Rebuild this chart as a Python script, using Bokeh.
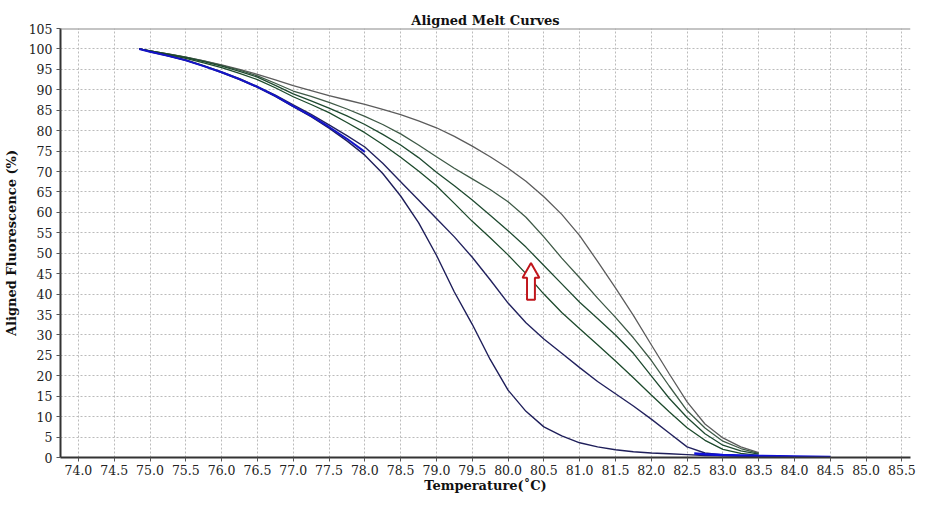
from bokeh.plotting import figure
from bokeh.models import FixedTicker, PrintfTickFormatter, Range1d, Span
from bokeh.embed import file_html
from bokeh.resources import INLINE

# ---- data ----
temps = [74.85, 75.0, 75.25, 75.5, 75.75, 76.0, 76.25, 76.5, 76.75, 77.0,
         77.25, 77.5, 77.75, 78.0, 78.25, 78.5, 78.75, 79.0, 79.25, 79.5,
         79.75, 80.0, 80.25, 80.5, 80.75, 81.0, 81.25, 81.5, 81.75, 82.0,
         82.25, 82.5, 82.75, 83.0, 83.25, 83.5, 83.75, 84.0, 84.25, 84.5]

curve_a = [100, 99.3, 98.3, 97.2, 95.8, 94.2, 92.5, 90.6, 88.4, 85.9,
           83.4, 80.6, 77.5, 74.0, 69.5, 64.0, 57.5, 49.5, 40.5, 32.6,
           24.0, 16.5, 11.3, 7.5, 5.3, 3.6, 2.6, 1.9, 1.4, 1.1,
           0.9, 0.7, 0.5, 0.4, 0.35, 0.3, 0.25, 0.2, 0.15, 0.1]
curve_b = [100, 99.4, 98.4, 97.3, 95.9, 94.4, 92.7, 90.8, 88.7, 86.3,
           84.0, 81.4, 78.8, 76.0, 72.0, 67.5, 63.0, 58.5, 54.0, 49.0,
           43.5, 37.8, 33.0, 29.0, 25.5, 22.0, 18.6, 15.6, 12.6, 9.4,
           6.0, 2.6, 1.1, 0.6, 0.45, 0.35, 0.3, 0.2, 0.15, 0.1]
curve_c = [100, 99.5, 98.6, 97.7, 96.6, 95.4, 94.0, 92.5, 90.5, 88.3,
           86.4, 84.4, 82.0, 79.5, 76.6, 73.5, 70.1, 66.5, 62.2, 57.8,
           53.8, 49.6, 45.0, 40.0, 35.5, 31.5, 27.6, 23.6, 19.5, 15.3,
           11.2, 7.3, 4.2, 2.0, 1.0, 0.5]
curve_d = [100, 99.5, 98.7, 97.9, 96.9, 95.8, 94.5, 93.1, 91.1, 89.0,
           87.3, 85.5, 83.6, 81.5, 79.1, 76.5, 73.4, 69.8, 66.5, 63.0,
           59.3, 55.5, 51.5, 47.0, 42.5, 38.0, 34.0, 30.0, 25.5, 20.0,
           14.5, 9.8, 5.8, 3.0, 1.6, 0.8]
curve_e = [100, 99.5, 98.8, 98.0, 97.1, 96.0, 94.8, 93.4, 91.6, 89.7,
           88.4, 86.9, 85.3, 83.5, 81.5, 79.2, 76.5, 73.6, 70.8, 68.2,
           65.6, 62.6, 58.8, 54.0, 48.8, 44.0, 39.0, 34.3, 29.3, 23.8,
           17.5, 11.5, 7.2, 4.0, 2.2, 1.0]
curve_f = [100, 99.5, 98.8, 98.0, 97.1, 96.1, 95.0, 93.8, 92.4, 91.0,
           89.8, 88.6, 87.5, 86.4, 85.2, 83.9, 82.4, 80.7, 78.6, 76.2,
           73.6, 70.8, 67.6, 63.8, 59.5, 54.3, 48.0, 41.5, 34.8, 27.6,
           20.5, 13.6, 8.2, 4.8, 2.6, 1.2]

blue_head_t = [74.85, 75.0, 75.25, 75.5, 75.75, 76.0, 76.25, 76.5, 76.75,
               77.0, 77.25, 77.5, 77.75, 78.0]
blue_head_f = [100, 99.3, 98.3, 97.2, 95.8, 94.3, 92.6, 90.7, 88.5,
               86.0, 83.6, 80.9, 78.0, 74.8]
blue_tail_t = [82.6, 82.75, 83.0, 83.25, 83.5, 84.0, 84.5]
blue_tail_f = [1.0, 0.8, 0.6, 0.5, 0.4, 0.25, 0.1]

arrow_x = 80.32
arrow_base = 38.6
arrow_tip = 47.6

x_ticks = [74.0, 74.5, 75.0, 75.5, 76.0, 76.5, 77.0, 77.5, 78.0, 78.5, 79.0,
           79.5, 80.0, 80.5, 81.0, 81.5, 82.0, 82.5, 83.0, 83.5, 84.0, 84.5,
           85.0, 85.5]
y_ticks = [0, 5, 10, 15, 20, 25, 30, 35, 40, 45, 50, 55, 60, 65, 70, 75, 80,
           85, 90, 95, 100, 105]

FONT = "DejaVu Serif"

p = figure(width=922, height=495, output_backend="svg", toolbar_location=None,
           x_range=Range1d(73.75, 85.62), y_range=Range1d(0, 105),
           min_border_left=58, min_border_right=12, min_border_top=28,
           min_border_bottom=36)

p.title.text = "Aligned Melt Curves"
p.title.align = "center"
p.title.text_font = FONT
p.title.text_font_style = "bold"
p.title.text_font_size = "13px"
p.title.text_color = "#111111"
p.title.standoff = 2

p.outline_line_color = None
p.add_layout(Span(location=105, dimension="width", line_color="#8a8a8a",
                  line_width=2))

for ax in (p.xaxis[0], p.yaxis[0]):
    ax.axis_line_color = "#333333"
    ax.axis_line_width = 2
    ax.major_tick_line_color = "#555555"
    ax.major_tick_out = 4
    ax.major_tick_in = 0
    ax.minor_tick_line_color = None
    ax.major_label_text_font = FONT
    ax.major_label_text_font_size = "12.5px"
    ax.major_label_text_color = "#222222"
    ax.axis_label_text_font = FONT
    ax.axis_label_text_font_style = "bold"
    ax.axis_label_text_font_size = "13px"
    ax.axis_label_text_color = "#111111"

p.xaxis.ticker = FixedTicker(ticks=x_ticks)
p.yaxis.ticker = FixedTicker(ticks=y_ticks)
p.xaxis.formatter = PrintfTickFormatter(format="%.1f")
p.xaxis.axis_label = "Temperature(˚C)"
p.yaxis.axis_label = "Aligned Fluorescence (%)"
p.xaxis.major_label_standoff = 3
p.yaxis.major_label_standoff = 4
p.xaxis.axis_label_standoff = 0
p.yaxis.axis_label_standoff = 7

for g in (p.xgrid[0], p.ygrid[0]):
    g.grid_line_color = "#bbbbbb"
    g.grid_line_dash = "2 2"
    g.grid_line_width = 1
p.xgrid.ticker = FixedTicker(ticks=x_ticks)
p.ygrid.ticker = FixedTicker(ticks=y_ticks)

n = len(curve_c)
p.line(temps[:n], curve_f, line_color="#5c5c5c", line_width=1.3)
p.line(temps[:n], curve_e, line_color="#3f5a47", line_width=1.3)
p.line(temps[:n], curve_d, line_color="#1f4a30", line_width=1.3)
p.line(temps[:n], curve_c, line_color="#1d4a2c", line_width=1.3)
p.line(temps, curve_b, line_color="#22225e", line_width=1.4)
p.line(temps, curve_a, line_color="#1e1e5a", line_width=1.4)
p.line(blue_head_t, blue_head_f, line_color="#1414c8", line_width=2)
p.line(blue_tail_t, blue_tail_f, line_color="#1010d8", line_width=2.5)

# hollow block arrow pointing up
hw_shaft = 0.055
hw_head = 0.117
head_len = (arrow_tip - arrow_base) * 0.4
ax_pts = [arrow_x - hw_shaft, arrow_x - hw_shaft, arrow_x - hw_head, arrow_x,
          arrow_x + hw_head, arrow_x + hw_shaft, arrow_x + hw_shaft]
ay_pts = [arrow_base, arrow_tip - head_len, arrow_tip - head_len, arrow_tip,
          arrow_tip - head_len, arrow_tip - head_len, arrow_base]
p.patch(ax_pts, ay_pts, fill_color="white", line_color="#c0161c", line_width=2)

open("out.html", "w").write(file_html(p, INLINE))
